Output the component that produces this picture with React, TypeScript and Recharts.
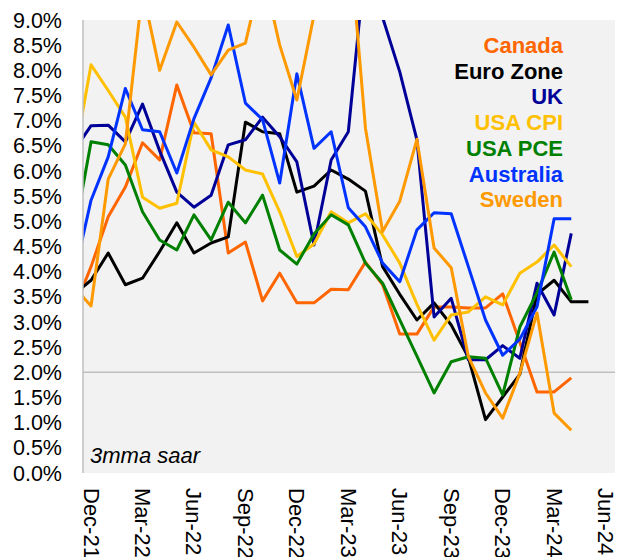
import { LineChart, Line, XAxis, YAxis, CartesianGrid, ReferenceLine } from "recharts";

// monthly points, Nov-21 .. May-24 (Nov-21 sits just left of the plot and gets clipped)
const months = [
  "Nov-21", "Dec-21", "Jan-22", "Feb-22", "Mar-22", "Apr-22", "May-22", "Jun-22", "Jul-22", "Aug-22",
  "Sep-22", "Oct-22", "Nov-22", "Dec-22", "Jan-23", "Feb-23", "Mar-23", "Apr-23", "May-23", "Jun-23",
  "Jul-23", "Aug-23", "Sep-23", "Oct-23", "Nov-23", "Dec-23", "Jan-24", "Feb-24", "Mar-24", "Apr-24", "May-24",
];

const tickPositions = [0, 3, 6, 9, 12, 15, 18, 21, 24, 27, 30];
const tickLabels = ["Dec-21", "Mar-22", "Jun-22", "Sep-22", "Dec-22", "Mar-23", "Jun-23", "Sep-23", "Dec-23", "Mar-24", "Jun-24"];
const yTicks = [0, 0.5, 1, 1.5, 2, 2.5, 3, 3.5, 4, 4.5, 5, 5.5, 6, 6.5, 7, 7.5, 8, 8.5, 9];

const canada = [3.25, 4.1, 5.09, 5.68, 6.56, 6.22, 7.71, 6.76, 6.74, 4.37, 4.59, 3.42, 3.97, 3.38, 3.38, 3.65, 3.64, 4.19, 3.74, 2.76, 2.76, 3.3, 3.3, 3.28, 3.28, 3.56, 2.6, 1.61, 1.61, 1.89, null];
const euroZone = [3.55, 3.83, 4.37, 3.74, 3.87, 4.4, 4.97, 4.37, 4.57, 4.69, 6.97, 6.78, 6.74, 5.58, 5.7, 6.02, 5.84, 5.6, 4.1, 3.55, 3.04, 3.38, 2.94, 2.3, 1.06, 1.51, 1.96, 3.55, 3.83, 3.4, 3.4];
const uk = [6.4, 6.9, 6.91, 6.58, 7.33, 6.4, 5.58, 5.28, 5.52, 6.52, 6.62, 7.07, 6.68, 6.18, 4.53, 6.22, 6.78, 10.2, 9.05, 7.97, 6.62, 3.1, 3.47, 2.25, 2.25, 2.53, 2.28, 3.77, 3.14, 4.76, null];
const usaCpi = [6.2, 8.11, 7.6, 7.07, 5.48, 5.26, 5.36, 6.97, 6.42, 6.28, 6.02, 5.94, 5.19, 4.3, 4.55, 5.19, 4.97, 5.15, 4.73, 4.17, 3.35, 2.64, 3.14, 3.2, 3.5, 3.34, 3.97, 4.19, 4.53, 4.1, null];
const usaPce = [4.7, 6.58, 6.52, 6.12, 5.19, 4.63, 4.43, 5.13, 4.63, 5.38, 4.97, 5.52, 4.43, 4.15, 4.75, 5.13, 4.93, 4.17, 3.77, 3.04, 2.32, 1.59, 2.21, 2.31, 2.28, 1.55, 2.9, 3.58, 4.39, 3.44, null];
const australia = [3.9, 5.42, 6.28, 7.64, 6.82, 6.78, 5.96, 7.04, 7.85, 8.9, 7.35, 7.02, 5.76, 7.93, 6.45, 6.78, 5.27, 4.89, 4.17, 3.8, 4.83, 5.17, 5.15, 4.1, 3.04, 2.34, 2.66, 3.3, 5.05, 5.05, null];
const sweden = [3.7, 3.32, 5.84, 6.54, 9.6, 8.0, 8.96, 8.46, 7.91, 8.4, 8.54, 10.0, 8.5, 7.41, 9.1, 11.0, 10.9, 6.85, 4.8, 5.4, 6.63, 4.47, 4.08, 2.31, 1.59, 1.09, 1.98, 3.18, 1.19, 0.85, null];

const SERIES = [
  { key: "canada", name: "Canada", color: "#ff6600", values: canada },
  { key: "euro", name: "Euro Zone", color: "#000000", values: euroZone },
  { key: "uk", name: "UK", color: "#000099", values: uk },
  { key: "cpi", name: "USA CPI", color: "#ffc000", values: usaCpi },
  { key: "pce", name: "USA PCE", color: "#008000", values: usaPce },
  { key: "aus", name: "Australia", color: "#0033ff", values: australia },
  { key: "swe", name: "Sweden", color: "#ff9900", values: sweden },
];

// x = months since Dec-21
const data = months.map((m, i) => {
  const row: Record<string, any> = { month: m, x: i - 1 };
  SERIES.forEach((s) => {
    row[s.key] = s.values[i];
  });
  return row;
});

const FONT = "'Liberation Sans', Arial, sans-serif";

function MonthTick(props: any) {
  const { x, y, payload } = props;
  const idx = tickPositions.indexOf(payload.value);
  return (
    <text
      transform={`translate(${x},${y}) rotate(90)`}
      textAnchor="start"
      dominantBaseline="central"
      fontSize={22}
      fontFamily={FONT}
      fill="#000"
    >
      {tickLabels[idx]}
    </text>
  );
}

export default function App() {
  return (
    <div style={{ position: "relative", width: 622, height: 557, background: "#fff", fontFamily: FONT }}>
      <style>{`body{margin:0}`}</style>
      <LineChart width={622} height={557} data={data} margin={{ top: 20, right: 7, bottom: 0, left: 0 }}>
        <CartesianGrid horizontal={false} vertical={false} fill="#f2f2f2" fillOpacity={1} stroke="none" />
        <XAxis
          dataKey="x"
          type="number"
          domain={[-0.47, 30.55]}
          allowDataOverflow
          ticks={tickPositions}
          tick={<MonthTick />}
          tickLine={false}
          axisLine={false}
          tickSize={6}
          tickMargin={9}
          height={84}
          interval={0}
        />
        <YAxis
          type="number"
          domain={[0, 9]}
          allowDataOverflow
          ticks={yTicks}
          tickFormatter={(v: number) => v.toFixed(1) + "%"}
          tick={{ fontSize: 21.5, fill: "#000", fontFamily: FONT }}
          tickLine={false}
          tickSize={6}
          tickMargin={15}
          axisLine={{ stroke: "#bfbfbf", strokeWidth: 1.5 }}
          width={83}
          interval={0}
        />
        <ReferenceLine y={2} stroke="#bfbfbf" strokeWidth={1.5} />
        {SERIES.map((s) => (
          <Line
            key={s.key}
            dataKey={s.key}
            name={s.name}
            type="linear"
            stroke={s.color}
            strokeWidth={3}
            strokeLinejoin="round"
            dot={false}
            activeDot={false}
            isAnimationActive={false}
          />
        ))}
      </LineChart>

      {/* legend as coloured text */}
      <div
        style={{
          position: "absolute",
          right: 59,
          top: 33,
          textAlign: "right",
          fontSize: 22,
          fontWeight: 700,
          lineHeight: "25.7px",
        }}
      >
        {SERIES.map((s) => (
          <div key={s.key} style={{ color: s.color }}>
            {s.name}
          </div>
        ))}
      </div>

      <div
        style={{
          position: "absolute",
          left: 90,
          top: 443,
          fontSize: 22,
          fontStyle: "italic",
          lineHeight: "25px",
          color: "#000",
        }}
      >
        3mma saar
      </div>
    </div>
  );
}
